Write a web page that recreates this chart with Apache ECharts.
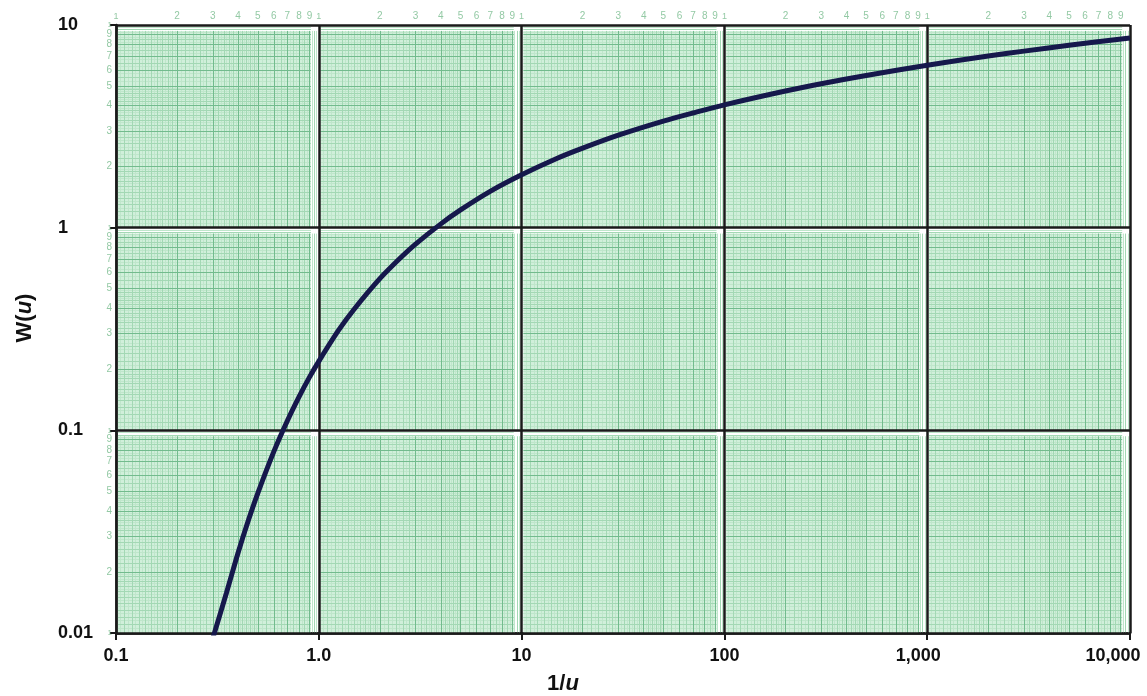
<!DOCTYPE html>
<html>
<head>
<meta charset="utf-8">
<script src="https://cdn.jsdelivr.net/npm/echarts@6/dist/echarts.min.js"></script>
<style>
  html, body { margin: 0; padding: 0; background: #fff; }
  #chart { width: 1147px; height: 696px; }
</style>
</head>
<body>
<div id="chart"></div>
<script>
// Theis type curve
const invU = [0.3, 0.35, 0.4, 0.45, 0.5, 0.6, 0.7, 0.8, 0.9, 1, 1.25, 1.5, 2, 2.5, 3, 4, 5, 7, 10, 15, 20, 30, 50, 70, 100, 200, 300, 500, 1000, 2000, 3000, 5000, 10000];
const wu = [0.0094, 0.0157, 0.0249, 0.0361, 0.0489, 0.0785, 0.1115, 0.1466, 0.183, 0.219, 0.311, 0.398, 0.56, 0.702, 0.83, 1.044, 1.223, 1.51, 1.823, 2.2, 2.468, 2.86, 3.355, 3.68, 4.038, 4.726, 5.13, 5.639, 6.332, 7.024, 7.43, 7.94, 8.633];

const xTickLabels = ["0.1", "1.0", "10", "100", "1,000", "10,000"];
const yTickLabels = ["0.01", "0.1", "1", "10"];

// graph paper
const xDecades = [0.1, 1, 10, 100, 1000];
const yDecades = [0.01, 0.1, 1];
const xBounds = [0.1, 1, 10, 100, 1000, 10000];
const yBounds = [0.01, 0.1, 1, 10];
const paperDigits = [2, 3, 4, 5, 6, 7, 8, 9];
const fineMantissa = [1.1, 1.2, 1.3, 1.4, 1.5, 1.6, 1.7, 1.8, 1.9, 2.2, 2.4, 2.6, 2.8, 3.2, 3.4, 3.6, 3.8, 4.2, 4.4, 4.6, 4.8, 5.5, 6.5, 7.5, 8.5, 9.5];
const finestMantissa = [1.05, 1.15, 1.25, 1.35, 1.45, 1.55, 1.65, 1.75, 1.85, 1.95, 2.1, 2.3, 2.5, 2.7, 2.9, 3.1, 3.3, 3.5, 3.7, 3.9, 4.1, 4.3, 4.5, 4.7, 4.9, 5.25, 5.75, 6.25, 6.75, 7.25, 7.75, 8.25, 8.75, 9.25, 9.75];

const digitColor = "#93c9a4";
const font = "Liberation Sans, Arial, sans-serif";

// each green line only runs inside the shaded part of a cell
const cellX = d => [d * 1.02, d * 10 * 0.915];
const cellY = d => [d, d * 10 * 0.935];

function paperLines(mantissas) {
  const out = [];
  xDecades.forEach(dx => mantissas.forEach(m => {
    yDecades.forEach(dy => {
      const [y0, y1] = cellY(dy);
      out.push([{ coord: [dx * m, y0] }, { coord: [dx * m, y1] }]);
    });
  }));
  yDecades.forEach(dy => mantissas.forEach(m => {
    xDecades.forEach(dx => {
      const [x0, x1] = cellX(dx);
      out.push([{ coord: [x0, dy * m] }, { coord: [x1, dy * m] }]);
    });
  }));
  return out;
}

const cells = [];
xDecades.forEach(dx => yDecades.forEach(dy => {
  const [x0, x1] = cellX(dx);
  const [y0, y1] = cellY(dy);
  cells.push([{ xAxis: x0, yAxis: y0 }, { xAxis: x1, yAxis: y1 }]);
}));

const hidden = { color: "rgba(0,0,0,0)" };
const xDigitLines = [];
xDecades.forEach(d => {
  xDigitLines.push({ xAxis: d, label: { formatter: "1", fontSize: 9 } });
  paperDigits.forEach(n => xDigitLines.push({ xAxis: d * n, label: { formatter: String(n) } }));
});
const yDigitLines = [];
yBounds.forEach(d => yDigitLines.push({ yAxis: d, label: { formatter: "1", fontSize: 8 } }));
yDecades.forEach(d => {
  paperDigits.forEach(n => yDigitLines.push({ yAxis: d * n, label: { formatter: String(n) } }));
});

const decadeLines = xBounds.map(v => ({ xAxis: v })).concat(yBounds.map(v => ({ yAxis: v })));

const tickText = { fontFamily: font, fontWeight: "bold", fontSize: 18, color: "#111" };

const chart = echarts.init(document.getElementById("chart"));
chart.setOption({
  animation: false,
  grid: { left: 116, right: 17, top: 25, bottom: 63, outerBoundsMode: "none", containLabel: false },
  xAxis: {
    type: "log",
    logBase: 10,
    min: 0.1,
    max: 10000,
    axisLine: { lineStyle: { color: "#1a1a1a", width: 2.5 } },
    axisTick: { show: true, length: 7, lineStyle: { color: "#1a1a1a", width: 2 } },
    axisLabel: {
      margin: 14,
      color: "#111",
      fontFamily: font,
      fontWeight: "bold",
      fontSize: 18,
      formatter: v => {
        const i = Math.round(Math.log10(v)) + 1;
        const key = i === 5 ? "last" : i === 4 ? "k" : "n";
        return "{" + key + "|" + xTickLabels[i] + "}";
      },
      rich: {
        n: tickText,
        k: Object.assign({ padding: [0, 18, 0, 0] }, tickText),
        last: Object.assign({ padding: [0, 34, 0, 0] }, tickText)
      }
    },
    splitLine: { show: false },
    minorTick: { show: false }
  },
  yAxis: {
    type: "log",
    logBase: 10,
    min: 0.01,
    max: 10,
    axisLine: { show: true, lineStyle: { color: "#1a1a1a", width: 2.5 } },
    axisTick: { show: true, length: 6, lineStyle: { color: "#1a1a1a", width: 2 } },
    axisLabel: {
      margin: 58,
      align: "left",
      color: "#111",
      fontFamily: font,
      fontWeight: "bold",
      fontSize: 18,
      formatter: v => yTickLabels[Math.round(Math.log10(v)) + 2]
    },
    splitLine: { show: false }
  },
  graphic: [
    {
      type: "text",
      x: 25,
      y: 318,
      rotation: Math.PI / 2,
      style: {
        text: "{b|W(}{i|u}{b|)}",
        align: "center",
        verticalAlign: "middle",
        rich: {
          b: { fontFamily: font, fontWeight: "bold", fontSize: 22, fill: "#111" },
          i: { fontFamily: font, fontWeight: "bold", fontStyle: "italic", fontSize: 22, fill: "#111" }
        }
      }
    },
    {
      type: "text",
      x: 563,
      y: 684,
      style: {
        text: "{b|1/}{i|u}",
        align: "center",
        verticalAlign: "middle",
        rich: {
          b: { fontFamily: font, fontWeight: "bold", fontSize: 22, fill: "#111" },
          i: { fontFamily: font, fontWeight: "bold", fontStyle: "italic", fontSize: 22, fill: "#111" }
        }
      }
    }
  ],
  series: [
    {
      type: "line",
      data: [],
      z: 1,
      markArea: {
        silent: true,
        itemStyle: { color: "#d0efda" },
        data: cells
      }
    },
    {
      type: "line",
      data: [],
      z: 2,
      markLine: {
        silent: true,
        symbol: "none",
        label: { show: false },
        lineStyle: { color: "#bfe6cb", width: 1, type: "solid" },
        data: paperLines(finestMantissa)
      }
    },
    {
      type: "line",
      data: [],
      z: 3,
      markLine: {
        silent: true,
        symbol: "none",
        label: { show: false },
        lineStyle: { color: "#a3d8b4", width: 1, type: "solid" },
        data: paperLines(fineMantissa)
      }
    },
    {
      type: "line",
      data: [],
      z: 4,
      markLine: {
        silent: true,
        symbol: "none",
        label: { show: false },
        lineStyle: { color: "#72bb8d", width: 1, type: "solid" },
        data: paperLines(paperDigits)
      }
    },
    {
      type: "line",
      data: [],
      z: 4,
      markLine: {
        silent: true,
        symbol: "none",
        label: { show: true, position: "end", distance: 4, color: digitColor, fontFamily: font, fontSize: 10 },
        lineStyle: hidden,
        data: xDigitLines
      }
    },
    {
      type: "line",
      data: [],
      z: 4,
      markLine: {
        silent: true,
        symbol: "none",
        label: { show: true, position: "start", distance: 4, color: digitColor, fontFamily: font, fontSize: 10 },
        lineStyle: hidden,
        data: yDigitLines
      }
    },
    {
      type: "line",
      data: [],
      z: 8,
      markLine: {
        silent: true,
        symbol: "none",
        label: { show: false },
        lineStyle: { color: "#1a1a1a", width: 2.5, type: "solid" },
        data: decadeLines
      }
    },
    {
      name: "W(u)",
      type: "line",
      z: 10,
      data: invU.map((x, i) => [x, wu[i]]),
      smooth: 0.3,
      showSymbol: false,
      symbol: "none",
      lineStyle: { color: "#16184c", width: 5 }
    }
  ]
});
</script>
</body>
</html>
